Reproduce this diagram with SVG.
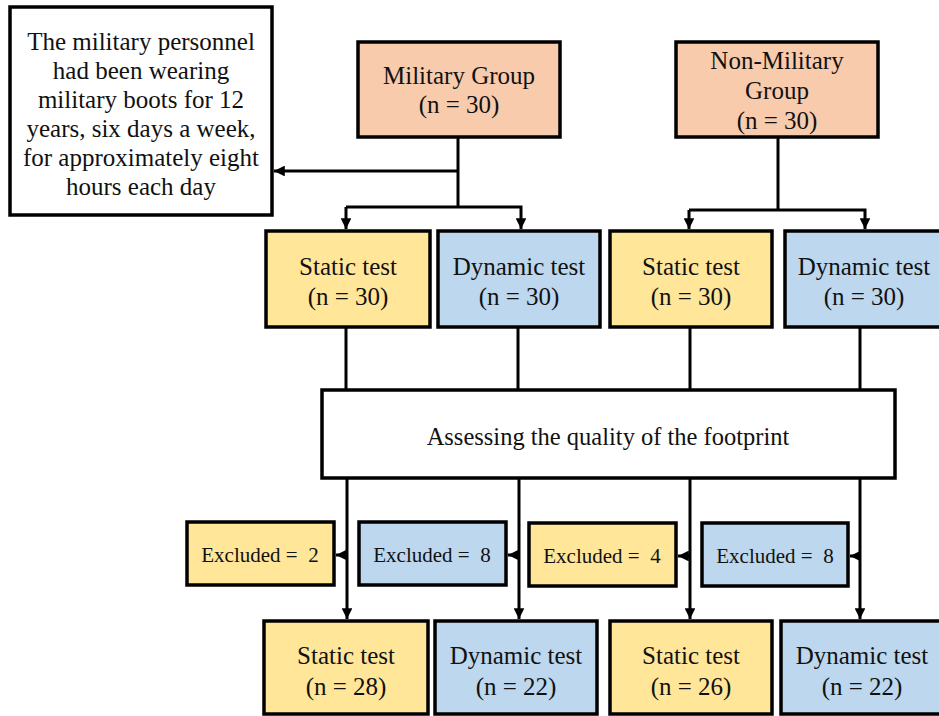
<svg xmlns="http://www.w3.org/2000/svg" width="939" height="716" viewBox="0 0 939 716">
<defs>
<marker id="ah" viewBox="0 0 10 10" refX="10" refY="5" markerWidth="3.6" markerHeight="3.6" orient="auto" markerUnits="strokeWidth">
<path d="M0,0 L10,5 L0,10 Z" fill="#000"/>
</marker>
<style>
.box{stroke:#000;stroke-width:3.5}
.w{fill:#fff}.o{fill:#F8CBAD}.y{fill:#FFE699}.b{fill:#BDD7EE}
text{font-family:"Liberation Serif","Times New Roman",serif;fill:#111;text-anchor:middle}
.t{font-size:25px}
.m{font-size:24.5px}
.s{font-size:21px}
.c{fill:none;stroke:#000;stroke-width:3}
.a{fill:none;stroke:#000;stroke-width:3;marker-end:url(#ah)}
</style>
</defs>
<rect width="939" height="716" fill="#fff"/>
<g id="connectors">
<path class="c" d="M458,137 V207"/>
<path class="a" d="M458,171 H274"/>
<path class="a" d="M346,207 H458 M346,207 V229"/>
<path class="a" d="M458,207 H521 V229"/>
<path class="c" d="M778,137 V210"/>
<path class="a" d="M689,210 H778 M689,210 V229"/>
<path class="a" d="M778,210 H865 V229"/>
<path class="c" d="M346,327 V390 M518,327 V390 M690,327 V390 M860,327 V390"/>
<path class="a" d="M347,478 V619"/>
<path class="a" d="M519,478 V619"/>
<path class="a" d="M690,478 V619"/>
<path class="a" d="M860,478 V619"/>
<path class="a" d="M347,555 H336"/>
<path class="a" d="M519,555 H508"/>
<path class="a" d="M690,556 H678"/>
<path class="a" d="M860,556 H850"/>
</g>
<g id="note">
<rect class="box w" x="10" y="7" width="262" height="208"/>
<text class="t" x="141" y="50">The military personnel</text>
<text class="t" x="141" y="79">had been wearing</text>
<text class="t" x="141" y="108">military boots for 12</text>
<text class="t" x="141" y="137">years, six days a week,</text>
<text class="t" x="141" y="166">for approximately eight</text>
<text class="t" x="141" y="195">hours each day</text>
</g>
<g id="military">
<rect class="box o" x="358" y="42" width="202" height="95"/>
<text class="t" x="459" y="84">Military Group</text>
<text class="t" x="459" y="113">(n = 30)</text>
</g>
<g id="nonmilitary">
<rect class="box o" x="676" y="42" width="202" height="95"/>
<text class="t" x="777" y="69">Non-Military</text>
<text class="t" x="777" y="99">Group</text>
<text class="t" x="777" y="129">(n = 30)</text>
</g>
<g id="static1">
<rect class="box y" x="266" y="231" width="164" height="96"/>
<text class="t" x="348" y="275">Static test</text>
<text class="t" x="348" y="305">(n = 30)</text>
</g>
<g id="dynamic1">
<rect class="box b" x="438" y="231" width="162" height="96"/>
<text class="t" x="519" y="275">Dynamic test</text>
<text class="t" x="519" y="305">(n = 30)</text>
</g>
<g id="static2">
<rect class="box y" x="610" y="231" width="162" height="96"/>
<text class="t" x="691" y="275">Static test</text>
<text class="t" x="691" y="305">(n = 30)</text>
</g>
<g id="dynamic2">
<rect class="box b" x="785" y="231" width="160" height="96"/>
<text class="t" x="864" y="275">Dynamic test</text>
<text class="t" x="864" y="305">(n = 30)</text>
</g>
<g id="assess">
<rect class="box w" x="322" y="390" width="573" height="88"/>
<text class="m" x="608" y="445">Assessing the quality of the footprint</text>
</g>
<g id="excl1">
<rect class="box y" x="187" y="522" width="147" height="63"/>
<text class="s" x="260" y="562">Excluded =&#160; 2</text>
</g>
<g id="excl2">
<rect class="box b" x="359" y="522" width="147" height="63"/>
<text class="s" x="432" y="562">Excluded =&#160; 8</text>
</g>
<g id="excl3">
<rect class="box y" x="529" y="523" width="147" height="63"/>
<text class="s" x="602" y="563">Excluded =&#160; 4</text>
</g>
<g id="excl4">
<rect class="box b" x="702" y="523" width="146" height="63"/>
<text class="s" x="775" y="563">Excluded =&#160; 8</text>
</g>
<g id="static3">
<rect class="box y" x="264" y="621" width="164" height="93"/>
<text class="t" x="346" y="664">Static test</text>
<text class="t" x="346" y="695">(n = 28)</text>
</g>
<g id="dynamic3">
<rect class="box b" x="435" y="621" width="162" height="93"/>
<text class="t" x="516" y="664">Dynamic test</text>
<text class="t" x="516" y="695">(n = 22)</text>
</g>
<g id="static4">
<rect class="box y" x="610" y="621" width="162" height="93"/>
<text class="t" x="691" y="664">Static test</text>
<text class="t" x="691" y="695">(n = 26)</text>
</g>
<g id="dynamic4">
<rect class="box b" x="781" y="621" width="164" height="93"/>
<text class="t" x="862" y="664">Dynamic test</text>
<text class="t" x="862" y="695">(n = 22)</text>
</g>
</svg>
